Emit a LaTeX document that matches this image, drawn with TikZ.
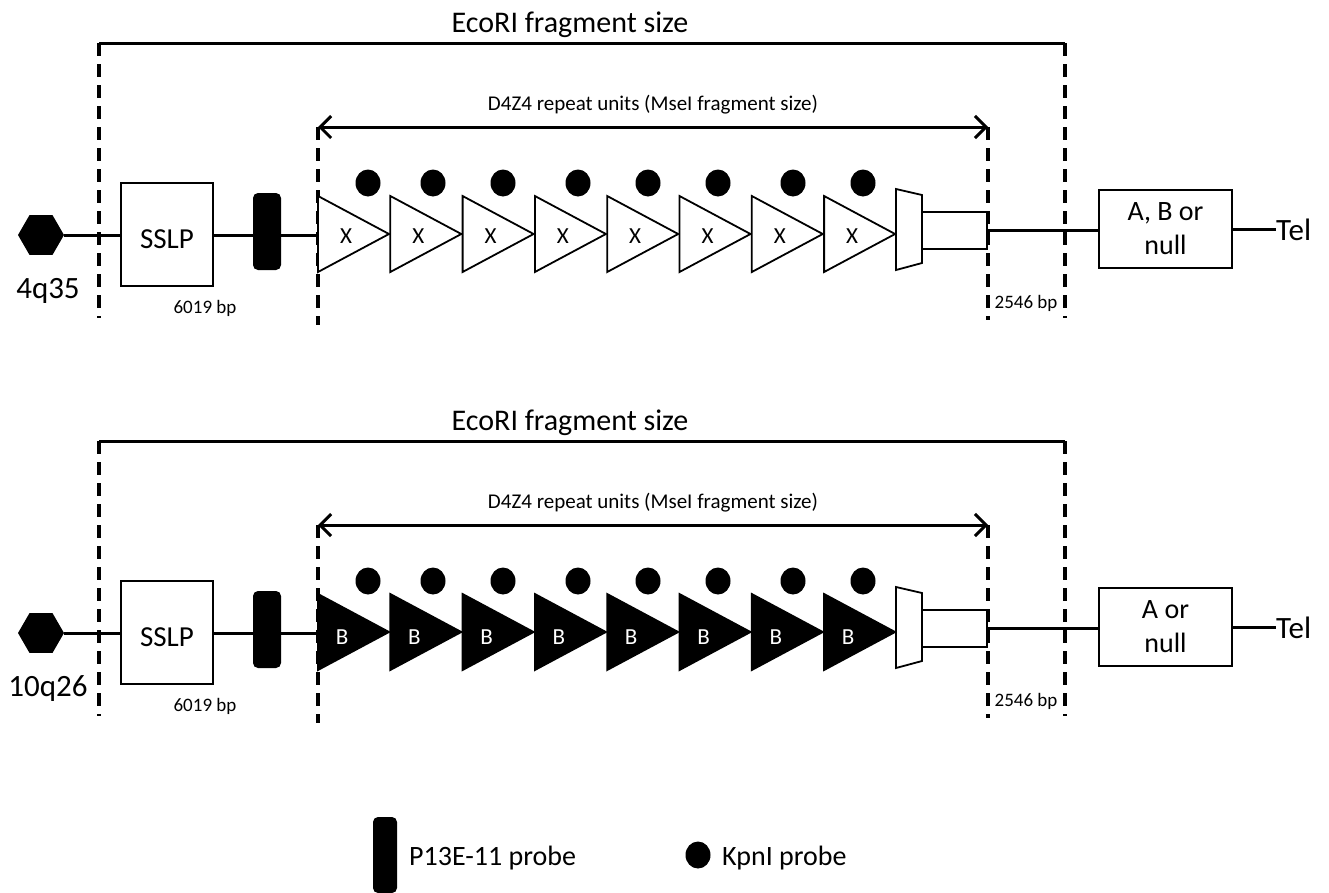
\documentclass[tikz,border=0pt]{standalone}
\usepackage{fontspec}
\setmainfont{Carlito}
\usetikzlibrary{arrows.meta,shapes.geometric}
\newcommand\fsz[2]{\fontsize{#1}{#2}\selectfont}
\tikzset{
  wire/.style={line width=3pt},
  dashv/.style={line width=3.5pt, dash pattern=on 13pt off 8pt},
  bracket/.style={line width=3pt},
  box/.style={draw, line width=2.2pt, inner sep=0pt, fill=white},
  probebar/.style={fill=black, rounded corners=5pt, minimum width=28pt, minimum height=77pt, inner sep=0pt},
  kdot/.style={ellipse, fill=black, minimum width=25pt, minimum height=27pt, inner sep=0pt},
  tri/.style={line width=1.8pt, line join=miter},
  txt/.style={inner sep=0pt},
  darrow/.style={line width=3pt, {Straight Barb[length=11pt,width=22pt]}-{Straight Barb[length=11pt,width=22pt]}},
  hexa/.style={regular polygon, regular polygon sides=6, minimum size=46pt, fill=black, inner sep=0pt}
}
% #1 prefix, #2 y offset, #3 chromosome, #4 triangle fill, #5 letter colour,
% #6 letter, #7 box text, #8 letter x offset, #9 letter baseline
\newcommand\drawpanel[9]{%
\begin{scope}[yshift=-#2pt]
  \node[txt, anchor=base, font=\fsz{30}{36}] (#1eco) at (570,32) {EcoRI fragment size};
  \coordinate (#1bl) at (99,43);
  \coordinate (#1br) at (1065,43);
  \coordinate (#1blb) at (99,318);
  \coordinate (#1brb) at (1065,318);
  \draw[bracket] (#1bl) -- (#1br);
  \draw[dashv] (#1bl) -- (#1blb);
  \draw[dashv] (#1br) -- (#1brb);
  \coordinate (#1dl) at (318,127);
  \coordinate (#1dr) at (988,127);
  \coordinate (#1dlb) at (318,325);
  \coordinate (#1drb) at (988,320);
  \draw[dashv] (#1dl) -- (#1dlb);
  \draw[dashv] (#1dr) -- (#1drb);
  \draw[darrow] (#1dl) -- (#1dr);
  \node[txt, anchor=base, font=\fsz{21}{25}] (#1d4) at (653,110) {D4Z4 repeat units (MseI fragment size)};
  % left part
  \node[hexa] (#1hex) at (41,235) {};
  \node[box, minimum width=92pt, minimum height=103pt] (#1sslp) at (167,234.5) {};
  \node[txt, anchor=base, font=\fsz{29}{34}] (#1sslpt) at (167,248) {SSLP};
  \node[probebar] (#1probe) at (267,231.5) {};
  \coordinate (#1t0) at (318,235);
  \draw[wire] (#1hex.east) -- (#1hex.east -| #1sslp.west);
  \draw[wire] (#1sslp.east |- #1t0) -- (#1probe.west |- #1t0);
  \draw[wire] (#1probe.east |- #1t0) -- (#1t0);
  \node[txt, anchor=base, font=\fsz{31}{36}] (#1chr) at (48,298) {#3};
  \node[txt, anchor=base, font=\fsz{19}{23}] (#1bp1) at (205,313) {6019 bp};
  % repeat units
  \foreach \i [evaluate=\i as \xl using 318+72.3*\i] in {0,...,7}{
    \draw[tri, fill=#4] (\xl,196) -- (\xl+71,234) -- (\xl,272) -- cycle;
    \node[txt, anchor=base, text=#5, font=\fsz{23}{27}] (#1u\i) at (\xl+#8,#9) {#6};
  }
  \foreach \dx [count=\k] in {368,433,503,578,648,718,793,863}
    \node[kdot] (#1k\k) at (\dx,183) {};
  % end of array
  \draw[tri, fill=white] (896,189) -- (922,195) -- (922,263) -- (896,270) -- cycle;
  \node[box, line width=1.8pt, minimum width=65pt, minimum height=37pt] (#1rect) at (954.5,230.5) {};
  \node[box, minimum width=133pt, minimum height=78pt, align=center, font=\fsz{28}{34}] (#1ab) at (1165.5,229) {#7};
  \node[txt, anchor=base west, font=\fsz{31}{36}] (#1tel) at (1276,240) {Tel};
  \draw[wire] (#1rect.east) -- (#1rect.east -| #1ab.west);
  \draw[wire] (#1ab.east) -- (#1ab.east -| #1tel.west);
  \node[txt, anchor=base, font=\fsz{19}{23}] (#1bp2) at (1026,308) {2546 bp};
\end{scope}}

\begin{document}
\begin{tikzpicture}[x=1pt,y=-1pt]
\useasboundingbox (0,0) rectangle (1329,892);
\drawpanel{a}{0}{4q35}{white}{black}{X}{A, B or\\null}{28}{243}
\drawpanel{b}{398}{10q26}{black}{white}{B}{A or\\null}{24}{246}
% legend
\node[probebar, minimum width=24pt, minimum height=76pt] (lp) at (385,855) {};
\node[txt, anchor=base west, font=\fsz{28}{34}] (lpt) at (409,865) {P13E-11 probe};
\node[kdot] (lk) at (698,855) {};
\node[txt, anchor=base west, font=\fsz{28}{34}] (lkt) at (722,865) {KpnI probe};
\end{tikzpicture}
\end{document}
